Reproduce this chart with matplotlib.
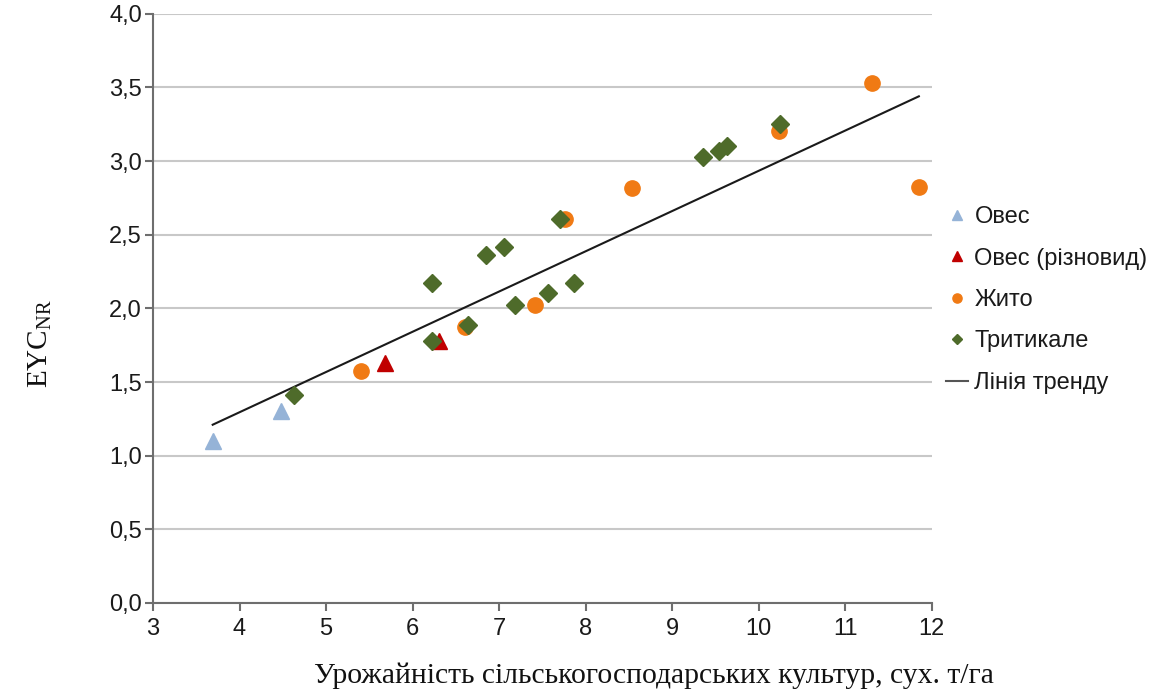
import matplotlib
matplotlib.use("Agg")
import matplotlib.pyplot as plt
from matplotlib.ticker import FuncFormatter

plt.rcParams['font.family'] = ['Liberation Sans', 'DejaVu Sans']
plt.rcParams['mathtext.fontset'] = 'custom'
plt.rcParams['mathtext.rm'] = 'Liberation Serif'

# Data
oves_x = [3.69, 4.48]
oves_y = [1.10, 1.30]
oves_var_x = [5.68, 6.30]
oves_var_y = [1.63, 1.78]
zhyto_x = [5.40, 6.60, 7.41, 7.76, 8.53, 10.23, 11.31, 11.85]
zhyto_y = [1.575, 1.875, 2.02, 2.61, 2.82, 3.205, 3.53, 2.825]
tryt_x = [4.63, 6.22, 6.22, 6.64, 6.85, 7.06, 7.18, 7.57, 7.70, 7.86, 9.36, 9.54, 9.63, 10.25]
tryt_y = [1.41, 2.17, 1.78, 1.89, 2.36, 2.42, 2.02, 2.105, 2.61, 2.17, 3.03, 3.07, 3.10, 3.25]
trend_x = [3.69, 11.85]
trend_y = [1.21, 3.44]

labels = ['Овес', 'Овес (різновид)', 'Жито', 'Тритикале', 'Лінія тренду']
x_ticks = [3, 4, 5, 6, 7, 8, 9, 10, 11, 12]
y_ticks = [0.0, 0.5, 1.0, 1.5, 2.0, 2.5, 3.0, 3.5, 4.0]

fig = plt.figure(figsize=(11.59, 6.93), dpi=100)
ax = fig.add_axes([0.132, 0.13, 0.672, 0.85])

ax.plot(trend_x, trend_y, color='#1a1a1a', lw=1.5, label=labels[4], zorder=2)
ax.plot(oves_x, oves_y, ls='none', marker='^', ms=11, color='#95B3D7', label=labels[0], zorder=3)
ax.plot(oves_var_x, oves_var_y, ls='none', marker='^', ms=11, color='#C00000', label=labels[1], zorder=3)
ax.plot(zhyto_x, zhyto_y, ls='none', marker='o', ms=11, color='#F07A14', label=labels[2], zorder=3)
ax.plot(tryt_x, tryt_y, ls='none', marker='D', ms=9, color='#4E6B2A', label=labels[3], zorder=4)

ax.set_xlim(3, 12)
ax.set_ylim(0, 4)
ax.set_xticks(x_ticks)
ax.set_yticks(y_ticks)
ax.xaxis.set_major_formatter(FuncFormatter(lambda v, p: f"{v:.0f}"))
ax.yaxis.set_major_formatter(FuncFormatter(lambda v, p: f"{v:.1f}".replace('.', ',')))

ax.grid(axis='y', color='#C8C8C8', lw=1.5)
ax.set_axisbelow(True)
for s in ['top', 'right']:
    ax.spines[s].set_visible(False)
for s in ['left', 'bottom']:
    ax.spines[s].set_color('#6E6E6E')
    ax.spines[s].set_linewidth(1.5)
ax.tick_params(axis='both', colors='#6E6E6E', labelcolor='#1a1a1a', labelsize=17,
               length=6, width=1.5, direction='out')
ax.tick_params(axis='x', pad=5)
ax.tick_params(axis='y', pad=2)

fig.text(0.564, 0.015, 'Урожайність сільськогосподарських культур, сух. т/га',
         ha='center', va='baseline',
         family=['Liberation Serif', 'DejaVu Serif'], fontsize=21.3, color='#111111')
fig.text(0.035, 0.504, r'EYC$_{\mathrm{NR}}$', rotation=90, ha='center', va='center',
         family=['Liberation Serif', 'DejaVu Serif'], fontsize=21, color='#111111')

handles, labs = ax.get_legend_handles_labels()
order = [1, 2, 3, 4, 0]
leg = fig.legend([handles[i] for i in order], [labs[i] for i in order],
                 loc='center left', bbox_to_anchor=(0.802, 0.567), frameon=False,
                 fontsize=17, markerscale=0.6, handlelength=0.95, handletextpad=0.25,
                 labelspacing=0.82, borderpad=0.2)
for t in leg.get_texts():
    t.set_color('#1a1a1a')
leg.legend_handles[4].set_color('#555555')

fig.savefig('out.png', dpi=100)
